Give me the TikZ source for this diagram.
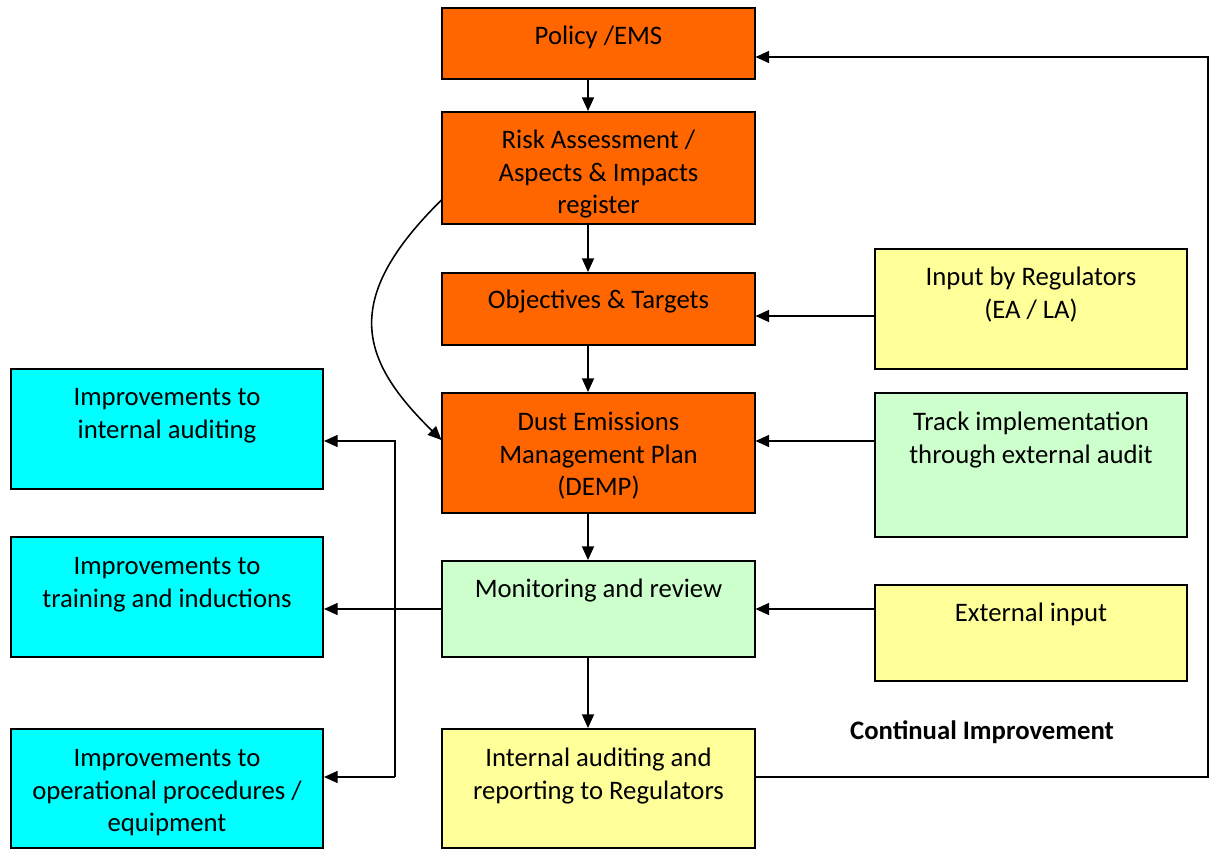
\documentclass[tikz,border=0pt]{standalone}
\usepackage{fontspec}
\setmainfont{Carlito}
\usetikzlibrary{arrows.meta,calc,positioning}
\definecolor{emsorange}{HTML}{FF6600}
\definecolor{emscyan}{HTML}{00FFFF}
\definecolor{emsyellow}{HTML}{FFFF99}
\definecolor{emsgreen}{HTML}{CCFFCC}
\begin{document}
\begin{tikzpicture}[x=0.025cm,y=-0.025cm,
  box/.style={draw,rectangle,line width=1.4pt,minimum width=7.8cm,inner sep=0pt},
  txt/.style={anchor=north,align=center,inner sep=0pt,font=\fontsize{19}{23}\selectfont},
  arr/.style={line width=1.1pt,-{Triangle[length=0.34cm,width=0.3cm]}}]
\useasboundingbox (0,0) rectangle (1211,849);

% Main column
\node[box,fill=emsorange,minimum height=1.78cm] (policy) at (598.5,43.5) {};
\node[txt] (policy-t) at ($(policy.north)+(0,15)$) {\strut Policy /EMS};
\node[box,fill=emsorange,minimum height=2.8cm] (risk) at (598.5,168) {};
\node[txt] (risk-t) at ($(risk.north)+(0,15)$) {\strut Risk Assessment /\\Aspects \& Impacts\\register};
\node[box,fill=emsorange,minimum height=1.8cm] (obj) at (598.5,309) {};
\node[txt] (obj-t) at ($(obj.north)+(0,14)$) {\strut Objectives \& Targets};
\node[box,fill=emsorange,minimum height=3cm] (demp) at (598.5,453) {};
\node[txt] (demp-t) at ($(demp.north)+(0,16)$) {\strut Dust Emissions\\Management Plan\\(DEMP)};
\node[box,fill=emsgreen,minimum height=2.4cm] (monitor) at (598.5,609) {};
\node[txt] (monitor-t) at ($(monitor.north)+(0,15)$) {\strut Monitoring and review};
\node[box,fill=emsyellow,minimum height=2.975cm] (intaud) at (598.5,788.5) {};
\node[txt] (intaud-t) at ($(intaud.north)+(0,16)$) {\strut Internal auditing and\\reporting to Regulators};

% External inputs
\node[box,fill=emsyellow,minimum height=3cm] (reg) at (1031,309) {};
\node[txt] (reg-t) at ($(reg.north)+(0,15)$) {\strut Input by Regulators\\(EA / LA)};
\node[box,fill=emsgreen,minimum height=3.6cm] (track) at (1031,465) {};
\node[txt] (track-t) at ($(track.north)+(0,16)$) {\strut Track implementation\\through external audit};
\node[box,fill=emsyellow,minimum height=2.4cm] (ext) at (1031,633) {};
\node[txt] (ext-t) at ($(ext.north)+(0,15)$) {\strut External input};

% Improvements
\node[box,fill=emscyan,minimum height=3cm] (imp1) at (167,429) {};
\node[txt] (imp1-t) at ($(imp1.north)+(0,15)$) {\strut Improvements to\\internal auditing};
\node[box,fill=emscyan,minimum height=3cm] (imp2) at (167,597) {};
\node[txt] (imp2-t) at ($(imp2.north)+(0,16)$) {\strut Improvements to\\training and inductions};
\node[box,fill=emscyan,minimum height=2.975cm] (imp3) at (167,788.5) {};
\node[txt] (imp3-t) at ($(imp3.north)+(0,16)$) {\strut Improvements to\\operational procedures /\\equipment};

\node[font=\fontsize{19}{23}\selectfont\bfseries] (ci) at (982,732) {Continual Improvement};

% Flow down the column
\coordinate (ax) at (588,0);
\draw[arr] (policy.south -| ax) -- (risk.north -| ax);
\draw[arr] (risk.south -| ax) -- (obj.north -| ax);
\draw[arr] (obj.south -| ax) -- (demp.north -| ax);
\draw[arr] (demp.south -| ax) -- (monitor.north -| ax);
\draw[arr] (monitor.south -| ax) -- (intaud.north -| ax);
\draw[arr] (risk.west |- 0,200) .. controls (340,300) and (360,360) .. (demp.west |- 0,440);

% Inputs from the right
\coordinate (r1) at (875,316);
\coordinate (r2) at (875,441);
\draw[arr] (r1) -- (r1 -| obj.east);
\draw[arr] (r2) -- (r2 -| demp.east);
\draw[arr] (ext.west |- monitor) -- (monitor.east);

% Outputs to the left
\coordinate (j1) at (395,441);
\coordinate (j3) at (395,777);
\draw[arr] (monitor.west) -- (monitor.west -| imp2.east);
\draw[arr] (j3) -- (j1) -- (j1 -| imp1.east);
\draw[arr] (j3) -- (j3 -| imp3.east);

% Feedback loop
\coordinate (la) at (1208,777);
\coordinate (lb) at (1208,57);
\draw[arr] (la -| intaud.east) -- (la) -- (lb) -- (lb -| policy.east);
\end{tikzpicture}
\end{document}
